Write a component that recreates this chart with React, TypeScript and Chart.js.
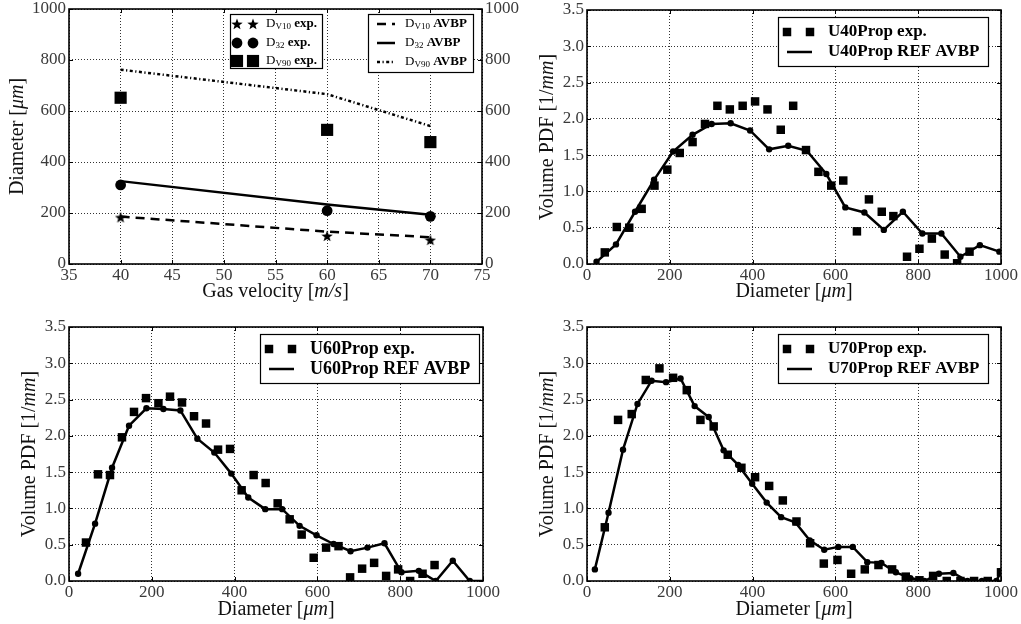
import React, { useEffect, useRef } from 'react';
import { Chart, registerables } from 'chart.js';

Chart.register(...registerables);

// ---------------- Panel 1: characteristic diameters vs gas velocity ----------------
const gasVelocity = [40, 60, 70];
const dv10Exp = [183, 110, 94];
const d32Exp = [310, 209, 187];
const dv90Exp = [652, 526, 478];
const dv10Avbp = [186, 127, 105];
const d32Avbp = [325, 233, 193];
const dv90Avbp = [762, 666, 541];
const velocityTicks = [35, 40, 45, 50, 55, 60, 65, 70, 75];
const diameterTicks = [0, 200, 400, 600, 800, 1000];

// ---------------- Panels 2-4: volume PDFs ----------------
const sizeTicks = [0, 200, 400, 600, 800, 1000];
const pdfTicks = [0, 0.5, 1.0, 1.5, 2.0, 2.5, 3.0, 3.5];

const u40ExpDiameter = [43, 72, 102, 132, 163, 194, 224, 255, 285, 315, 345, 376, 406, 436, 468, 498, 529, 559, 590, 619, 652, 681, 712, 740, 773, 803, 833, 864, 894, 924];
const u40ExpPdf = [0.16, 0.51, 0.50, 0.76, 1.08, 1.30, 1.53, 1.68, 1.93, 2.18, 2.13, 2.18, 2.24, 2.13, 1.85, 2.18, 1.57, 1.27, 1.08, 1.15, 0.45, 0.89, 0.72, 0.66, 0.10, 0.21, 0.35, 0.13, 0.01, 0.17];
const u40AvbpDiameter = [23, 70, 116, 162, 208, 255, 301, 347, 394, 440, 486, 531, 578, 624, 670, 717, 763, 810, 856, 902, 949, 996];
const u40AvbpPdf = [0.03, 0.27, 0.72, 1.16, 1.55, 1.78, 1.93, 1.94, 1.84, 1.58, 1.63, 1.56, 1.24, 0.78, 0.71, 0.47, 0.72, 0.42, 0.42, 0.10, 0.26, 0.17];

const u60ExpDiameter = [41, 70, 99, 128, 157, 186, 216, 244, 273, 302, 331, 360, 389, 417, 446, 475, 504, 533, 562, 591, 621, 651, 679, 708, 737, 766, 795, 824, 854, 883];
const u60ExpPdf = [0.53, 1.47, 1.46, 1.98, 2.33, 2.52, 2.45, 2.54, 2.46, 2.27, 2.17, 1.81, 1.82, 1.25, 1.46, 1.35, 1.07, 0.85, 0.64, 0.32, 0.46, 0.48, 0.05, 0.17, 0.25, 0.07, 0.16, 0.00, 0.10, 0.22];
const u60AvbpDiameter = [22, 63, 104, 145, 187, 228, 269, 310, 351, 392, 433, 474, 515, 557, 598, 639, 680, 721, 762, 803, 845, 886, 927, 968, 1009];
const u60AvbpPdf = [0.10, 0.79, 1.56, 2.14, 2.38, 2.37, 2.35, 1.96, 1.77, 1.48, 1.15, 0.99, 0.99, 0.76, 0.63, 0.51, 0.41, 0.46, 0.52, 0.12, 0.14, 0.00, 0.28, 0.00, 0.00];

const u70ExpDiameter = [43, 75, 108, 142, 175, 208, 241, 274, 306, 340, 373, 406, 440, 473, 506, 539, 572, 605, 638, 671, 704, 737, 770, 803, 836, 869, 902, 935, 968, 1000];
const u70ExpPdf = [0.74, 2.22, 2.30, 2.77, 2.93, 2.80, 2.63, 2.22, 2.13, 1.74, 1.56, 1.43, 1.31, 1.11, 0.82, 0.52, 0.24, 0.29, 0.10, 0.16, 0.22, 0.16, 0.06, 0.01, 0.07, 0.00, 0.00, 0.00, 0.00, 0.12];
const u70AvbpDiameter = [19, 52, 87, 122, 156, 191, 226, 260, 294, 330, 365, 399, 434, 469, 503, 538, 573, 607, 642, 677, 711, 746, 781, 815, 850, 885, 919, 954, 989, 1000];
const u70AvbpPdf = [0.16, 0.94, 1.81, 2.44, 2.76, 2.74, 2.79, 2.41, 2.26, 1.80, 1.60, 1.34, 1.08, 0.88, 0.81, 0.56, 0.43, 0.47, 0.47, 0.26, 0.25, 0.12, 0.04, 0.00, 0.10, 0.11, 0.00, 0.00, 0.00, 0.14];

// Text (segments between * are italic)
const p1XTitle = 'Gas velocity [*m/s*]';
const p1YTitle = 'Diameter [*μm*]';
const pdfXTitle = 'Diameter [*μm*]';
const pdfYTitle = 'Volume PDF [1/*mm*]';

// ---------------- helpers ----------------
const SERIF = '"Liberation Serif", "Times New Roman", serif';
const GRID = 'rgba(0,0,0,0.8)';
const TICK_COLOR = '#3a3a3a';

const pts = (xs: number[], ys: number[]) => xs.map((x, i) => ({ x, y: ys[i] }));

function makeStar(size: number) {
  const c = document.createElement('canvas');
  c.width = size;
  c.height = size;
  const g = c.getContext('2d')!;
  const R = size / 2;
  const r = R * 0.42;
  g.fillStyle = '#000';
  g.beginPath();
  for (let i = 0; i < 10; i++) {
    const a = -Math.PI / 2 + (i * Math.PI) / 5;
    const rad = i % 2 === 0 ? R : r;
    const x = R + rad * Math.cos(a);
    const y = R + 0.5 + rad * Math.sin(a);
    if (i === 0) g.moveTo(x, y);
    else g.lineTo(x, y);
  }
  g.closePath();
  g.fill();
  return c;
}

function xScale(ticks: number[], h: number, fmt: (v: number) => string) {
  return {
    type: 'linear',
    position: 'bottom',
    min: ticks[0],
    max: ticks[ticks.length - 1],
    afterBuildTicks: (s: any) => {
      s.ticks = ticks.map((value) => ({ value }));
    },
    afterFit: (s: any) => {
      s.height = h;
      s.paddingLeft = 0;
      s.paddingRight = 0;
    },
    grid: { color: GRID, lineWidth: 1, drawTicks: false },
    border: { display: false, dash: [1, 2] },
    ticks: {
      font: { family: SERIF, size: 17 },
      color: TICK_COLOR,
      padding: 1,
      autoSkip: false,
      maxRotation: 0,
      callback: (v: any) => fmt(Number(v)),
    },
  };
}

function yScale(ticks: number[], w: number, fmt: (v: number) => string, position = 'left', onArea = true) {
  return {
    type: 'linear',
    position,
    min: ticks[0],
    max: ticks[ticks.length - 1],
    afterBuildTicks: (s: any) => {
      s.ticks = ticks.map((value) => ({ value }));
    },
    afterFit: (s: any) => {
      s.width = w;
      s.paddingTop = 0;
      s.paddingBottom = 0;
    },
    grid: { color: GRID, lineWidth: 1, drawTicks: false, drawOnChartArea: onArea },
    border: { display: false, dash: [1, 2] },
    ticks: {
      font: { family: SERIF, size: 17 },
      color: TICK_COLOR,
      padding: 3,
      autoSkip: false,
      callback: (v: any) => fmt(Number(v)),
    },
  };
}

function richWidth(ctx: CanvasRenderingContext2D, text: string, size: number) {
  let w = 0;
  text.split('*').forEach((p, i) => {
    ctx.font = `${i % 2 ? 'italic ' : ''}${size}px ${SERIF}`;
    w += ctx.measureText(p).width;
  });
  return w;
}

function drawRich(ctx: CanvasRenderingContext2D, text: string, cx: number, cy: number, size: number) {
  const total = richWidth(ctx, text, size);
  let x = cx - total / 2;
  ctx.textAlign = 'left';
  ctx.textBaseline = 'middle';
  ctx.fillStyle = '#111';
  text.split('*').forEach((p, i) => {
    ctx.font = `${i % 2 ? 'italic ' : ''}${size}px ${SERIF}`;
    ctx.fillText(p, x, cy);
    x += ctx.measureText(p).width;
  });
}

function titlesPlugin(xt: string, yt: string, xOff: number, yOff: number, size: number) {
  return {
    id: 'axisTitles',
    afterDraw(chart: any) {
      const { ctx, chartArea: a } = chart;
      ctx.save();
      drawRich(ctx, xt, (a.left + a.right) / 2, a.bottom + xOff, size);
      ctx.translate(a.left - yOff, (a.top + a.bottom) / 2);
      ctx.rotate(-Math.PI / 2);
      drawRich(ctx, yt, 0, 0, size);
      ctx.restore();
    },
  };
}

const framePlugin = {
  id: 'frame',
  afterDraw(chart: any) {
    const { ctx, chartArea: a, scales } = chart;
    ctx.save();
    ctx.strokeStyle = '#000';
    ctx.lineWidth = 1;
    const L = 4;
    ctx.beginPath();
    for (const t of scales.x.ticks) {
      const p = Math.round(scales.x.getPixelForValue(t.value)) + 0.5;
      ctx.moveTo(p, a.bottom);
      ctx.lineTo(p, a.bottom - L);
      ctx.moveTo(p, a.top);
      ctx.lineTo(p, a.top + L);
    }
    for (const t of scales.y.ticks) {
      const p = Math.round(scales.y.getPixelForValue(t.value)) + 0.5;
      ctx.moveTo(a.left, p);
      ctx.lineTo(a.left + L, p);
      ctx.moveTo(a.right, p);
      ctx.lineTo(a.right - L, p);
    }
    ctx.stroke();
    ctx.lineWidth = 1.6;
    ctx.strokeRect(a.left, a.top, a.right - a.left, a.bottom - a.top);
    ctx.restore();
  },
};

type LegendSpec = {
  items: number[];
  left: number;
  top: number;
  height: number;
  rows: number[];
  marks: number[];
  line: [number, number];
  text: number;
  padRight: number;
  size: number;
};

function parseLabel(label: string) {
  const m = /^(.*?)_\{(.*?)\}(.*)$/.exec(label);
  if (!m) return [{ t: label, sub: false, bold: true }];
  return [
    { t: m[1], sub: false, bold: false },
    { t: m[2], sub: true, bold: false },
    { t: m[3], sub: false, bold: true },
  ];
}

function labelFont(seg: any, size: number) {
  const s = seg.sub ? Math.round(size * 0.7) : size;
  return `${seg.bold ? 'bold ' : ''}${s}px ${SERIF}`;
}

function labelWidth(ctx: CanvasRenderingContext2D, label: string, size: number) {
  let w = 0;
  for (const seg of parseLabel(label)) {
    ctx.font = labelFont(seg, size);
    w += ctx.measureText(seg.t).width;
  }
  return w;
}

function drawLabel(ctx: CanvasRenderingContext2D, label: string, x: number, y: number, size: number) {
  ctx.textAlign = 'left';
  ctx.textBaseline = 'middle';
  ctx.fillStyle = '#000';
  for (const seg of parseLabel(label)) {
    ctx.font = labelFont(seg, size);
    ctx.fillText(seg.t, x, seg.sub ? y + size * 0.22 : y);
    x += ctx.measureText(seg.t).width;
  }
}

function drawMarker(ctx: CanvasRenderingContext2D, style: any, x: number, y: number, r: number) {
  ctx.fillStyle = '#000';
  if (style instanceof HTMLCanvasElement) {
    ctx.drawImage(style, x - style.width / 2, y - style.height / 2);
    return;
  }
  ctx.beginPath();
  if (style === 'rect') {
    const h = r * Math.SQRT1_2;
    ctx.rect(x - h, y - h, 2 * h, 2 * h);
  } else {
    ctx.arc(x, y, r, 0, Math.PI * 2);
  }
  ctx.fill();
}

function legendPlugin(specs: LegendSpec[]) {
  return {
    id: 'insetLegend',
    afterDatasetsDraw(chart: any) {
      const { ctx, chartArea: a } = chart;
      for (const s of specs) {
        ctx.save();
        let maxW = 0;
        for (const i of s.items) maxW = Math.max(maxW, labelWidth(ctx, chart.data.datasets[i].label, s.size));
        const bx = Math.round(a.left + s.left);
        const by = Math.round(a.top + s.top);
        const bw = Math.round(s.text + maxW + s.padRight);
        ctx.fillStyle = '#fff';
        ctx.fillRect(bx, by, bw, s.height);
        ctx.strokeStyle = '#000';
        ctx.lineWidth = 1.2;
        ctx.strokeRect(bx + 0.5, by + 0.5, bw, s.height);
        s.items.forEach((di, k) => {
          const ds = chart.data.datasets[di];
          const y = by + s.rows[k];
          if (ds.showLine) {
            ctx.save();
            ctx.strokeStyle = '#000';
            ctx.lineWidth = ds.borderWidth;
            ctx.setLineDash(ds.borderDash || []);
            ctx.beginPath();
            ctx.moveTo(bx + s.line[0], y);
            ctx.lineTo(bx + s.line[1], y);
            ctx.stroke();
            ctx.restore();
          } else {
            for (const mx of s.marks) drawMarker(ctx, ds.pointStyle, bx + mx, y, ds.pointRadius);
          }
          drawLabel(ctx, ds.label, bx + s.text, y, s.size);
        });
        ctx.restore();
      }
    },
  };
}

function baseOptions(top: number, right: number, scales: any) {
  return {
    responsive: false,
    animation: false,
    devicePixelRatio: 1,
    events: [],
    layout: { padding: { left: 0, top, right, bottom: 0 } },
    plugins: { legend: { display: false }, tooltip: { enabled: false } },
    scales,
  };
}

const intFmt = (v: number) => String(Math.round(v));
const oneDec = (v: number) => v.toFixed(1);

// ---------------- chart builders ----------------
function buildPanel1(canvas: HTMLCanvasElement) {
  const star = makeStar(12);
  const marker = (label: string, ys: number[], style: any, r: number) => ({
    label,
    data: pts(gasVelocity, ys),
    showLine: false,
    pointStyle: style,
    pointRadius: r,
    pointBorderWidth: 0,
    backgroundColor: '#000',
    pointBackgroundColor: '#000',
    borderColor: '#000',
  });
  const line = (label: string, ys: number[], dash: number[]) => ({
    label,
    data: pts(gasVelocity, ys),
    showLine: true,
    borderColor: '#000',
    borderWidth: 2.5,
    borderDash: dash,
    pointRadius: 0,
    tension: 0,
    fill: false,
  });
  return new Chart(canvas, {
    type: 'scatter',
    data: {
      datasets: [
        marker('D_{V10} exp.', dv10Exp, star, 6),
        marker('D_{32} exp.', d32Exp, 'circle', 5.4),
        marker('D_{V90} exp.', dv90Exp, 'rect', 8.6),
        line('D_{V10} AVBP', dv10Avbp, [9, 6]),
        line('D_{32} AVBP', d32Avbp, []),
        line('D_{V90} AVBP', dv90Avbp, [3, 2.5, 1.2, 2.5]),
      ] as any,
    },
    options: baseOptions(9, 0, {
      x: xScale(velocityTicks, 46, intFmt),
      y: yScale(diameterTicks, 69, intFmt, 'left', true),
      y2: yScale(diameterTicks, 48, intFmt, 'right', false),
    }) as any,
    plugins: [
      legendPlugin([
        { items: [0, 1, 2], left: 161, top: 5, height: 54, rows: [10, 29, 47], marks: [7, 23], line: [0, 0], text: 36, padRight: 5, size: 13 },
        { items: [3, 4, 5], left: 299, top: 5, height: 58, rows: [10, 29, 48], marks: [], line: [9, 27], text: 37, padRight: 6, size: 13 },
      ]),
      framePlugin,
      titlesPlugin(p1XTitle, p1YTitle, 28, 51, 20),
    ] as any,
  });
}

function buildPdfPanel(
  canvas: HTMLCanvasElement,
  name: string,
  expD: number[],
  expPdf: number[],
  avbpD: number[],
  avbpPdf: number[],
  geo: { axisW: number; right: number; top: number; xH: number; legendSize: number; xOff: number }
) {
  return new Chart(canvas, {
    type: 'scatter',
    data: {
      datasets: [
        {
          label: `${name} exp.`,
          data: pts(expD, expPdf),
          showLine: false,
          pointStyle: 'rect',
          pointRadius: 6,
          pointBorderWidth: 0,
          backgroundColor: '#000',
          pointBackgroundColor: '#000',
          borderColor: '#000',
          clip: 0,
        },
        {
          label: `${name} REF AVBP`,
          data: pts(avbpD, avbpPdf),
          showLine: true,
          borderColor: '#000',
          borderWidth: 2.5,
          pointStyle: 'circle',
          pointRadius: 3.2,
          pointBorderWidth: 0,
          backgroundColor: '#000',
          pointBackgroundColor: '#000',
          tension: 0,
          fill: false,
          clip: 0,
        },
      ] as any,
    },
    options: baseOptions(geo.top, geo.right, {
      x: xScale(sizeTicks, geo.xH, intFmt),
      y: yScale(pdfTicks, geo.axisW, oneDec, 'left', true),
    }) as any,
    plugins: [
      legendPlugin([
        { items: [0, 1], left: 191, top: 7, height: 49, rows: [15, 35], marks: [9, 32], line: [9, 34], text: 50, padRight: 9, size: geo.legendSize },
      ]),
      framePlugin,
      titlesPlugin(pdfXTitle, pdfYTitle, geo.xOff, 39, 20),
    ] as any,
  });
}

function Panel(props: { left: number; top: number; width: number; height: number; build: (c: HTMLCanvasElement) => Chart }) {
  const ref = useRef<HTMLCanvasElement>(null);
  useEffect(() => {
    const chart = props.build(ref.current!);
    return () => chart.destroy();
  }, []);
  return (
    <canvas
      ref={ref}
      width={props.width}
      height={props.height}
      style={{ position: 'absolute', left: props.left, top: props.top, width: props.width, height: props.height }}
    />
  );
}

export default function App() {
  return (
    <div style={{ position: 'absolute', left: 0, top: 0, width: 1021, height: 624, background: '#fff', overflow: 'hidden' }}>
      <Panel left={0} top={0} width={530} height={310} build={buildPanel1} />
      <Panel
        left={510}
        top={0}
        width={511}
        height={310}
        build={(c) => buildPdfPanel(c, 'U40Prop', u40ExpDiameter, u40ExpPdf, u40AvbpDiameter, u40AvbpPdf, { axisW: 77, right: 20, top: 10, xH: 46, legendSize: 17, xOff: 28 })}
      />
      <Panel
        left={0}
        top={310}
        width={510}
        height={314}
        build={(c) => buildPdfPanel(c, 'U60Prop', u60ExpDiameter, u60ExpPdf, u60AvbpDiameter, u60AvbpPdf, { axisW: 69, right: 27, top: 17, xH: 43, legendSize: 18, xOff: 29 })}
      />
      <Panel
        left={510}
        top={310}
        width={511}
        height={314}
        build={(c) => buildPdfPanel(c, 'U70Prop', u70ExpDiameter, u70ExpPdf, u70AvbpDiameter, u70AvbpPdf, { axisW: 77, right: 20, top: 17, xH: 43, legendSize: 17, xOff: 29 })}
      />
    </div>
  );
}
